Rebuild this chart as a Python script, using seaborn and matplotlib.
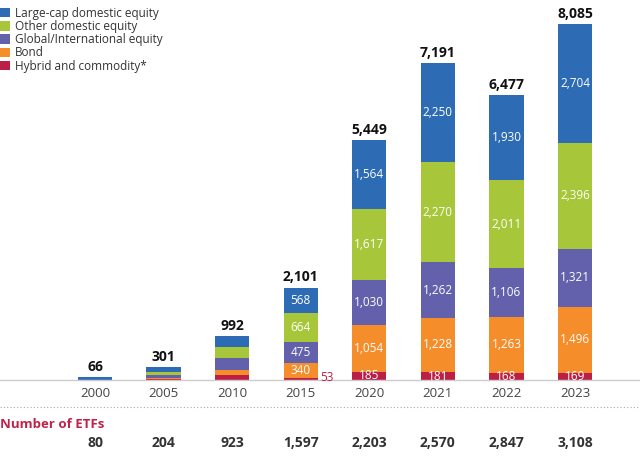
import matplotlib
matplotlib.use("Agg")
import matplotlib.pyplot as plt
import seaborn as sns
import pandas as pd
import numpy as np
from matplotlib.patches import Patch
from matplotlib.lines import Line2D

years = ["2000", "2005", "2010", "2015", "2020", "2021", "2022", "2023"]
large_cap = [62, 120, 232, 568, 1564, 2250, 1930, 2704]
other_dom = [2, 75, 265, 664, 1617, 2270, 2011, 2396]
global_intl = [2, 65, 260, 475, 1030, 1262, 1106, 1321]
bond = [0, 20, 130, 340, 1054, 1228, 1263, 1496]
hybrid = [0, 21, 105, 53, 185, 181, 168, 169]
totals = ["66", "301", "992", "2,101", "5,449", "7,191", "6,477", "8,085"]
num_etfs = ["80", "204", "923", "1,597", "2,203", "2,570", "2,847", "3,108"]
series_names = ["Large-cap domestic equity", "Other domestic equity",
                "Global/International equity", "Bond", "Hybrid and commodity*"]
colors = ["#2E6BB5", "#A7C63A", "#6361AB", "#F68D2B", "#BC1F46"]
labeled_from = 3  # segment labels shown from 2015 on

sns.set_theme(style="white")
plt.rcParams["font.family"] = ["Open Sans", "DejaVu Sans"]

fig = plt.figure(figsize=(6.4, 4.57), dpi=100)
ax = fig.add_axes([0, 77 / 457, 1, 380 / 457])

# bottom-up stacking order
stack = [hybrid, bond, global_intl, other_dom, large_cap]
stack_colors = colors[::-1]
cum = np.cumsum(np.array(stack, dtype=float), axis=0)

# draw tallest cumulative first so that lower layers overlay
for i in range(len(stack) - 1, -1, -1):
    df = pd.DataFrame({"year": years, "value": cum[i]})
    sns.barplot(data=df, x="year", y="value", color=stack_colors[i],
                width=0.5, saturation=1, ax=ax, linewidth=0)

ax.set_xlim(-95 / 68.57, 7 + 65 / 68.57)
ax.set_ylim(0, 8085 * 380 / 356)
ax.set_xlabel("")
ax.set_ylabel("")
ax.set_yticks([])
ax.tick_params(axis="x", length=0, pad=5, labelsize=9.5, labelcolor="#444444")
for s in ["top", "left", "right"]:
    ax.spines[s].set_visible(False)
ax.spines["bottom"].set_color("#cccccc")
ax.spines["bottom"].set_linewidth(1)

# segment labels
for j in range(len(years)):
    bottoms = np.concatenate([[0], cum[:-1, j]])
    for i in range(len(stack)):
        val = stack[i][j]
        if j < labeled_from:
            continue
        if i == 0 and j == 3:
            ax.text(j + 0.28, bottoms[i] + val / 2 + 40, f"{val:,}", ha="left", va="center",
                    color=colors[4], fontsize=8.5)
            continue
        ax.text(j, bottoms[i] + val / 2, f"{val:,}", ha="center", va="center",
                color="white", fontsize=8.5)
    ax.text(j, cum[-1, j] + 70, totals[j], ha="center", va="bottom",
            color="#111111", fontsize=10, fontweight="bold")

# number of ETFs row
trans = ax.get_xaxis_transform()
for j in range(len(years)):
    ax.text(j, -63 / 380, num_etfs[j], transform=trans, ha="center", va="center",
            fontsize=10, fontweight="bold", color="#333333", clip_on=False)
fig.text(0.0, 1 - 424 / 457, "Number of ETFs", ha="left", va="center",
         fontsize=9.5, fontweight="bold", color="#C0224A")
fig.add_artist(Line2D([0, 1], [1 - 407 / 457] * 2, transform=fig.transFigure,
                      color="#aaaaaa", linestyle=(0, (1, 2)), linewidth=0.8))

handles = [Patch(facecolor=c, edgecolor="none") for c in colors]
fig.legend(handles, series_names, loc="upper left", bbox_to_anchor=(-0.002, 0.988),
           frameon=False, fontsize=8.5, handlelength=0.85, handleheight=0.85,
           handletextpad=0.45, labelspacing=0.02, borderpad=0.1, borderaxespad=0,
           labelcolor="#333333")

fig.savefig("out.png", dpi=100)
